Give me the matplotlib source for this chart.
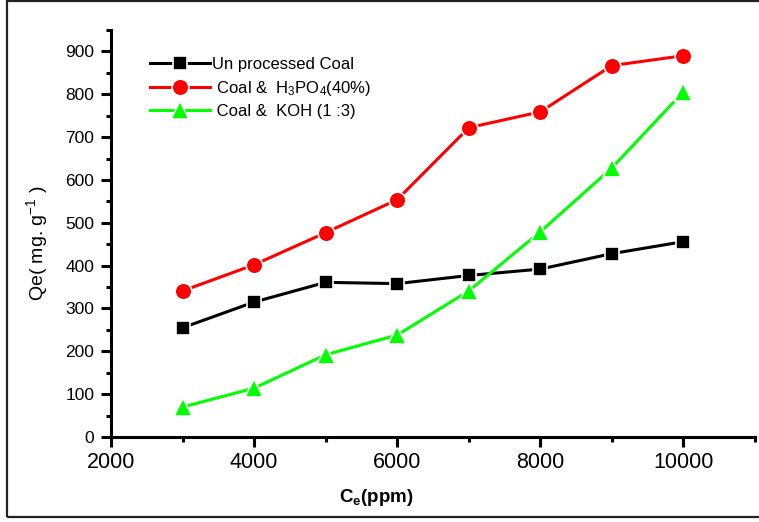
import matplotlib
matplotlib.use("Agg")
import matplotlib.pyplot as plt
from matplotlib.ticker import MultipleLocator
from matplotlib.patches import Rectangle

plt.rcParams['font.family'] = ['Liberation Sans', 'DejaVu Sans']
plt.rcParams['mathtext.fontset'] = 'custom'
plt.rcParams['mathtext.rm'] = 'Liberation Sans'
plt.rcParams['mathtext.it'] = 'Liberation Sans'
plt.rcParams['mathtext.bf'] = 'Liberation Sans:bold'
plt.rcParams['mathtext.default'] = 'regular'

# Equilibrium concentration (ppm)
ce = [3000, 4000, 5000, 6000, 7000, 8000, 9000, 10000]
# Adsorption capacity Qe (mg/g)
qe_raw = [255, 315, 361, 358, 377, 392, 428, 456]
qe_h3po4 = [341, 402, 477, 554, 722, 759, 867, 890]
qe_koh = [70, 114, 192, 238, 341, 479, 628, 806]

labels = ['Un processed Coal',
          ' Coal &  H$_3$PO$_4$(40%)',
          ' Coal &  KOH (1 :3)']

W, H = 759, 522
fig = plt.figure(figsize=(W / 100, H / 100), dpi=100)
x0, x1, y0, y1 = 111, 755, 437, 30
ax = fig.add_axes([x0 / W, 1 - y0 / H, (x1 - x0) / W, (y0 - y1) / H])

line_kw = dict(lw=2.2, mec='white', mew=1.2)
ax.plot(ce, qe_raw, color='black', marker='s', ms=10.5, label=labels[0], **line_kw)
ax.plot(ce, qe_h3po4, color='#ff0000', marker='o', ms=12, label=labels[1], **line_kw)
ax.plot(ce, qe_koh, color='#00ff00', marker='^', ms=12.5, label=labels[2], **line_kw)

ax.set_xlim(2000, 11000)
ax.set_ylim(0, 950)
ax.xaxis.set_major_locator(MultipleLocator(2000))
ax.xaxis.set_minor_locator(MultipleLocator(1000))
ax.yaxis.set_major_locator(MultipleLocator(100))
ax.yaxis.set_minor_locator(MultipleLocator(50))

for s in ['top', 'right']:
    ax.spines[s].set_visible(False)
for s in ['left', 'bottom']:
    ax.spines[s].set_linewidth(2.2)

ax.tick_params(which='major', direction='out', length=7, width=2.2)
ax.tick_params(which='minor', direction='out', length=3.5, width=2.2)
ax.tick_params(axis='x', which='major', labelsize=15.5, pad=4)
ax.tick_params(axis='y', which='major', labelsize=12.5, pad=5)

ax.set_ylabel('Qe( mg. g$^{-1}$ )', fontsize=14, va='center', ha='center')
ax.yaxis.set_label_coords((37 - x0) / (x1 - x0), (y0 - 243) / (y0 - y1))
ax.set_xlabel(r'$\mathbf{C_e}$(ppm)', fontsize=13.5, fontweight='bold',
              va='center', ha='center')
ax.xaxis.set_label_coords((376 - x0) / (x1 - x0), (y0 - 497) / (y0 - y1))

leg = ax.legend(loc='upper left', bbox_to_anchor=(150 / W, 1 - 57 / H),
                bbox_transform=fig.transFigure, frameon=False, fontsize=12,
                handlelength=3.6, handletextpad=0.1, labelspacing=0.4,
                borderaxespad=0, borderpad=0)

# Outer frame around the whole figure
fig.patches.append(Rectangle((7 / W, 5 / H), 1.2, 1 - 6 / H,
                             transform=fig.transFigure, fill=False,
                             edgecolor='#222222', lw=1.6, clip_on=False))

fig.savefig('out.png', dpi=100)
